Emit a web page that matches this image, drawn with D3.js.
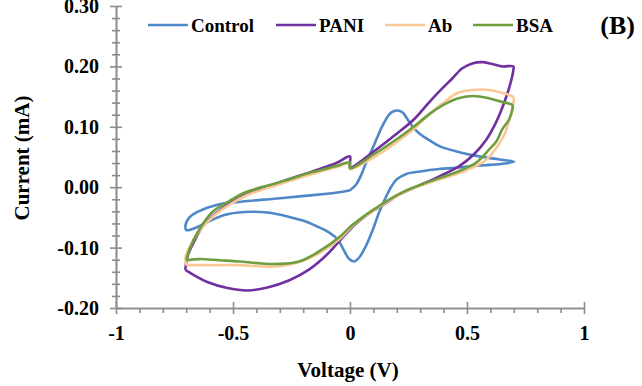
<!DOCTYPE html>
<html>
<head>
<meta charset="utf-8">
<script src="https://cdn.jsdelivr.net/npm/d3@7"></script>
<style>
  body { margin: 0; background: #fff; }
  svg text { font-family: "Liberation Serif", serif !important; font-weight: bold; fill: #000; }
</style>
</head>
<body>
<svg id="viz_area" width="642" height="386"></svg>
<script>
// cyclic voltammograms, [voltage (V), current (mA)]
var control = [
  [0.000,-0.005],[0.027,0.005],[0.053,0.025],[0.074,0.046],[0.095,0.063],[0.117,0.083],[0.138,0.101],
  [0.159,0.116],[0.177,0.124],[0.202,0.127],[0.224,0.124],[0.245,0.113],[0.266,0.101],[0.296,0.089],
  [0.339,0.078],[0.382,0.068],[0.467,0.058],[0.552,0.051],[0.638,0.046],[0.702,0.042],
  [0.600,0.037],[0.523,0.035],[0.450,0.032],[0.382,0.030],[0.300,0.026],[0.241,0.022],[0.200,0.013],
  [0.175,0.000],[0.155,-0.015],[0.125,-0.041],[0.095,-0.073],[0.066,-0.099],[0.040,-0.116],[0.018,-0.123],
  [-0.003,-0.119],[-0.024,-0.106],[-0.054,-0.086],[-0.097,-0.073],[-0.140,-0.065],[-0.195,-0.056],
  [-0.251,-0.050],[-0.354,-0.042],[-0.452,-0.041],[-0.537,-0.046],[-0.610,-0.058],[-0.665,-0.068],[-0.699,-0.071],
  [-0.703,-0.063],[-0.686,-0.050],[-0.652,-0.041],[-0.567,-0.029],[-0.464,-0.024],[-0.323,-0.019],
  [-0.182,-0.014],[-0.037,-0.008],[0.000,-0.005]
];
var pani = [
  [-0.704,-0.137],[-0.694,-0.114],[-0.665,-0.089],[-0.631,-0.066],[-0.579,-0.045],[-0.507,-0.025],
  [-0.430,-0.010],[-0.302,0.008],[-0.161,0.026],[-0.058,0.040],[0.000,0.051],
  [0.000,0.033],[0.104,0.060],[0.198,0.088],[0.275,0.113],[0.339,0.141],[0.390,0.162],[0.437,0.180],
  [0.480,0.197],[0.523,0.205],[0.565,0.207],[0.608,0.204],[0.651,0.200],[0.698,0.200],
  [0.698,0.194],[0.685,0.171],[0.660,0.141],[0.626,0.109],[0.583,0.079],[0.531,0.055],[0.467,0.035],
  [0.382,0.018],[0.297,0.003],[0.211,-0.012],[0.147,-0.028],[0.083,-0.043],[0.018,-0.063],[-0.038,-0.086],
  [-0.097,-0.111],[-0.174,-0.136],[-0.259,-0.154],[-0.353,-0.166],[-0.438,-0.171],[-0.524,-0.167],
  [-0.610,-0.157],[-0.665,-0.146],[-0.704,-0.137]
];
var ab = [
  [-0.699,-0.129],[-0.703,-0.116],[-0.686,-0.099],[-0.644,-0.073],[-0.584,-0.048],[-0.511,-0.028],
  [-0.439,-0.013],[-0.302,0.005],[-0.161,0.022],[-0.058,0.033],[0.000,0.040],
  [0.000,0.030],[0.104,0.050],[0.198,0.074],[0.275,0.097],[0.339,0.121],[0.403,0.141],[0.459,0.156],
  [0.523,0.161],[0.596,0.161],[0.651,0.156],[0.698,0.149],
  [0.698,0.139],[0.685,0.118],[0.664,0.091],[0.634,0.070],[0.583,0.046],[0.510,0.030],[0.425,0.018],
  [0.318,0.005],[0.232,-0.008],[0.169,-0.022],[0.105,-0.038],[0.053,-0.051],[0.000,-0.068],[-0.046,-0.086],
  [-0.131,-0.109],[-0.217,-0.124],[-0.302,-0.131],[-0.388,-0.131],[-0.473,-0.129],[-0.559,-0.129],
  [-0.644,-0.129],[-0.699,-0.129]
];
var bsa = [
  [-0.699,-0.121],[-0.686,-0.103],[-0.644,-0.070],[-0.588,-0.041],[-0.516,-0.023],[-0.443,-0.008],
  [-0.302,0.008],[-0.161,0.025],[-0.058,0.035],[0.000,0.041],
  [0.000,0.031],[0.104,0.055],[0.198,0.079],[0.275,0.101],[0.339,0.121],[0.403,0.137],[0.459,0.147],
  [0.523,0.151],[0.596,0.147],[0.651,0.141],[0.694,0.136],
  [0.694,0.129],[0.681,0.113],[0.651,0.096],[0.626,0.076],[0.596,0.063],[0.540,0.041],[0.455,0.025],
  [0.382,0.015],[0.309,0.005],[0.232,-0.007],[0.169,-0.020],[0.105,-0.036],[0.053,-0.050],[0.000,-0.066],
  [-0.046,-0.083],[-0.131,-0.106],[-0.217,-0.123],[-0.302,-0.127],[-0.388,-0.126],[-0.473,-0.123],
  [-0.559,-0.121],[-0.644,-0.119],[-0.699,-0.121]
];

var seriesNames = ["Control", "PANI", "Ab", "BSA"];
var seriesData = [control, pani, ab, bsa];
var colors = ["#4f88c8", "#7030a0", "#fac796", "#6e9e3e"];

var xMajor = [-1, -0.5, 0, 0.5, 1];
var xMinor = [-0.9, -0.8, -0.7, -0.6, -0.4, -0.3, -0.2, -0.1, 0.1, 0.2, 0.3, 0.4, 0.6, 0.7, 0.8, 0.9];
var yMajor = [-0.2, -0.1, 0, 0.1, 0.2, 0.3];
var yMinor = [-0.18, -0.16, -0.14, -0.12, -0.08, -0.06, -0.04, -0.02, 0.02, 0.04, 0.06, 0.08,
              0.12, 0.14, 0.16, 0.18, 0.22, 0.24, 0.26, 0.28];

var serif = "'Liberation Serif', serif";
var svg = d3.select("#viz_area");
var x = d3.scaleLinear().domain([-1, 1]).range([116, 584]);
var y = d3.scaleLinear().domain([-0.2, 0.3]).range([308, 6]);
var axisColor = "#8c8c8c";

// minor ticks first, then major
var yMinorAxis = svg.append("g").attr("transform", "translate(116,0)")
  .call(d3.axisLeft(y).tickValues(yMinor).tickFormat("").tickSizeOuter(0));
yMinorAxis.selectAll(".tick line").attr("x1", 4).attr("x2", -4);

var yAxis = svg.append("g").attr("transform", "translate(116,0)")
  .call(d3.axisLeft(y).tickValues(yMajor).tickFormat(function(d){ return d.toFixed(2); }).tickSizeOuter(0));
yAxis.selectAll(".tick line").attr("x1", 6).attr("x2", -6);
yAxis.selectAll(".tick text").attr("x", -17);

var xMinorAxis = svg.append("g").attr("transform", "translate(0,308)")
  .call(d3.axisBottom(x).tickValues(xMinor).tickFormat("").tickSizeOuter(0));
xMinorAxis.selectAll(".tick line").attr("y1", 0).attr("y2", 5);

var xAxis = svg.append("g").attr("transform", "translate(0,308)")
  .call(d3.axisBottom(x).tickValues(xMajor).tickFormat(function(d){ return String(d); }).tickSizeOuter(0));
xAxis.selectAll(".tick line").attr("y1", -6).attr("y2", 6);
xAxis.selectAll(".tick text").attr("y", 18);

svg.selectAll("g").attr("font-family", serif).attr("font-size", 20);
svg.selectAll(".domain, .tick line").attr("stroke", axisColor).attr("stroke-width", 1.6);
svg.selectAll(".tick text").style("font-family", serif).style("font-size", "20px").style("font-weight", "bold");

// curves
var line = d3.line()
  .x(function(d){ return x(d[0]); })
  .y(function(d){ return y(d[1]); })
  .curve(d3.curveCatmullRom.alpha(0.5));

for (let i = 0; i < seriesData.length; i++){
  svg.append("path")
    .attr("d", line(seriesData[i]))
    .attr("fill", "none")
    .attr("stroke", colors[i])
    .attr("stroke-width", 2.6)
    .attr("stroke-linejoin", "round");
}

// legend
var legendX = [148, 276, 385, 473];
for (let i = 0; i < seriesNames.length; i++){
  svg.append("line")
    .attr("x1", legendX[i]).attr("x2", legendX[i] + 40)
    .attr("y1", 25).attr("y2", 25)
    .attr("stroke", colors[i])
    .attr("stroke-width", 2.6);
  svg.append("text")
    .attr("x", legendX[i] + 43)
    .attr("y", 32)
    .style("font-family", serif)
    .style("font-size", "19px")
    .text(seriesNames[i]);
}

svg.append("text")
  .attr("x", 635).attr("y", 34)
  .attr("text-anchor", "end")
  .style("font-family", serif)
  .style("font-size", "26px")
  .text("(B)");

// axis titles
svg.append("text")
  .attr("x", 348).attr("y", 377)
  .attr("text-anchor", "middle")
  .style("font-family", serif)
  .style("font-size", "21px")
  .text("Voltage (V)");

svg.append("text")
  .attr("transform", "translate(29,158) rotate(-90)")
  .attr("text-anchor", "middle")
  .style("font-family", serif)
  .style("font-size", "21px")
  .text("Current (mA)");
</script>
</body>
</html>
